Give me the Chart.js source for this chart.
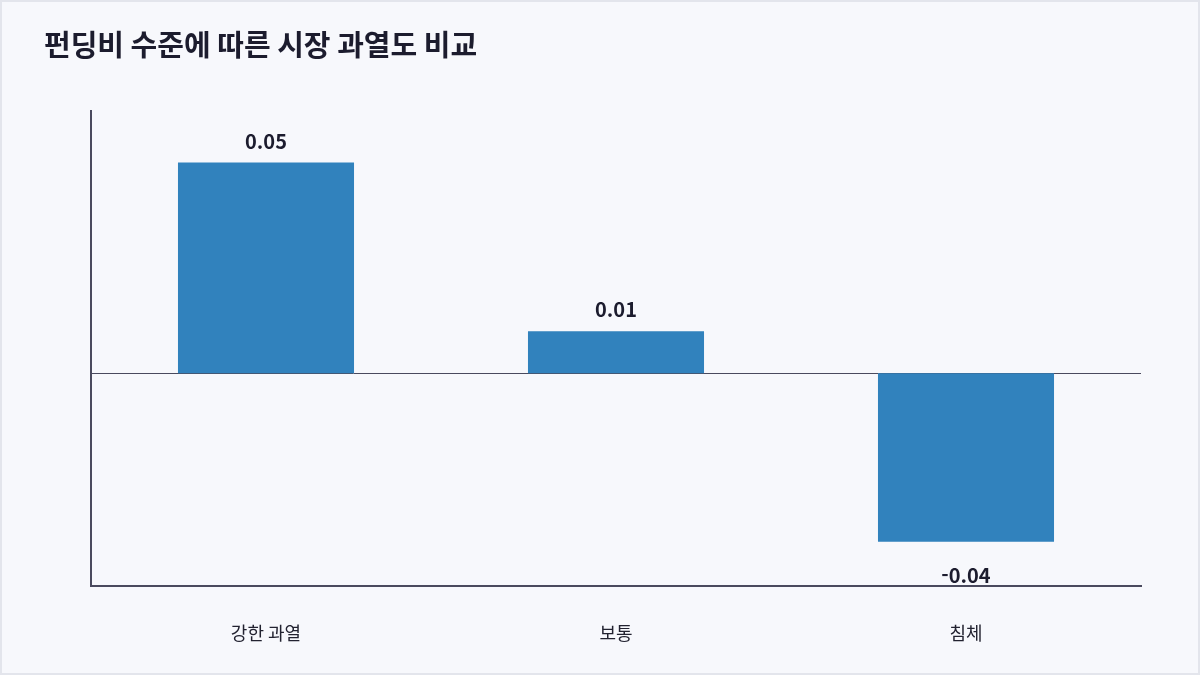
<!DOCTYPE html>
<html lang="ko">
<head>
<meta charset="utf-8">
<script src="https://cdn.jsdelivr.net/npm/chart.js@4"></script>
<style>
  html, body { margin: 0; padding: 0; background: #e3e5ec; }
  .card {
    width: 1196px; height: 671px;
    border: 2px solid #e3e5ec;
    background: #f7f8fc;
  }
  canvas { display: block; }
</style>
</head>
<body>
<div class="card"><canvas id="chart" width="1196" height="671"></canvas></div>
<script>
const categories = ["강한 과열", "보통", "침체"];
const fundingValues = [0.05, 0.01, -0.04];
const valueLabels = ["0.05", "0.01", "-0.04"];

const fontFamily = "'Noto Sans CJK KR', 'Noto Sans', sans-serif";

// zero line across the plot
const zeroLine = {
  id: "zeroLine",
  beforeDatasetsDraw(chart) {
    const { ctx, chartArea, scales } = chart;
    const y = Math.round(scales.y.getPixelForValue(0)) + 0.5;
    ctx.save();
    ctx.strokeStyle = "#4a4a5e";
    ctx.lineWidth = 1;
    ctx.beginPath();
    ctx.moveTo(chartArea.left, y);
    ctx.lineTo(chartArea.right, y);
    ctx.stroke();
    ctx.restore();
  }
};

// value labels above / below each bar
const barLabels = {
  id: "barLabels",
  afterDatasetsDraw(chart) {
    const { ctx } = chart;
    const meta = chart.getDatasetMeta(0);
    ctx.save();
    ctx.font = "bold 20px " + fontFamily;
    ctx.fillStyle = "#1c1c2e";
    ctx.textAlign = "center";
    ctx.textBaseline = "alphabetic";
    meta.data.forEach((bar, i) => {
      const v = fundingValues[i];
      if (v >= 0) {
        ctx.fillText(valueLabels[i], bar.x, bar.y - 14);
      } else {
        ctx.fillText(valueLabels[i], bar.x, bar.y + 41);
      }
    });
    ctx.restore();
  }
};

new Chart(document.getElementById("chart"), {
  type: "bar",
  data: {
    labels: categories,
    datasets: [{
      data: fundingValues,
      backgroundColor: "#3182bd",
      borderWidth: 0,
      barPercentage: 0.503,
      categoryPercentage: 1
    }]
  },
  options: {
    responsive: false,
    animation: false,
    layout: { padding: { left: 42, right: 57, top: 0, bottom: 0 } },
    plugins: {
      legend: { display: false },
      tooltip: { enabled: false },
      title: {
        display: true,
        text: "펀딩비 수준에 따른 시장 과열도 비교",
        align: "start",
        color: "#1c1c2e",
        font: { family: fontFamily, size: 29, weight: "bold", lineHeight: 1.2 },
        padding: { top: 26, bottom: 48 }
      }
    },
    scales: {
      x: {
        afterFit(scale) { scale.height = 87; },
        grid: { display: false, drawTicks: false },
        border: { display: true, color: "#4a4a5e", width: 2 },
        ticks: {
          color: "#222230",
          padding: 36,
          font: { family: fontFamily, size: 18 }
        }
      },
      y: {
        min: -0.0505,
        max: 0.0623,
        afterFit(scale) { scale.width = 47; },
        grid: { display: false, drawTicks: false },
        border: { display: true, color: "#4a4a5e", width: 2 },
        ticks: { display: false }
      }
    }
  },
  plugins: [zeroLine, barLabels]
});
</script>
</body>
</html>
